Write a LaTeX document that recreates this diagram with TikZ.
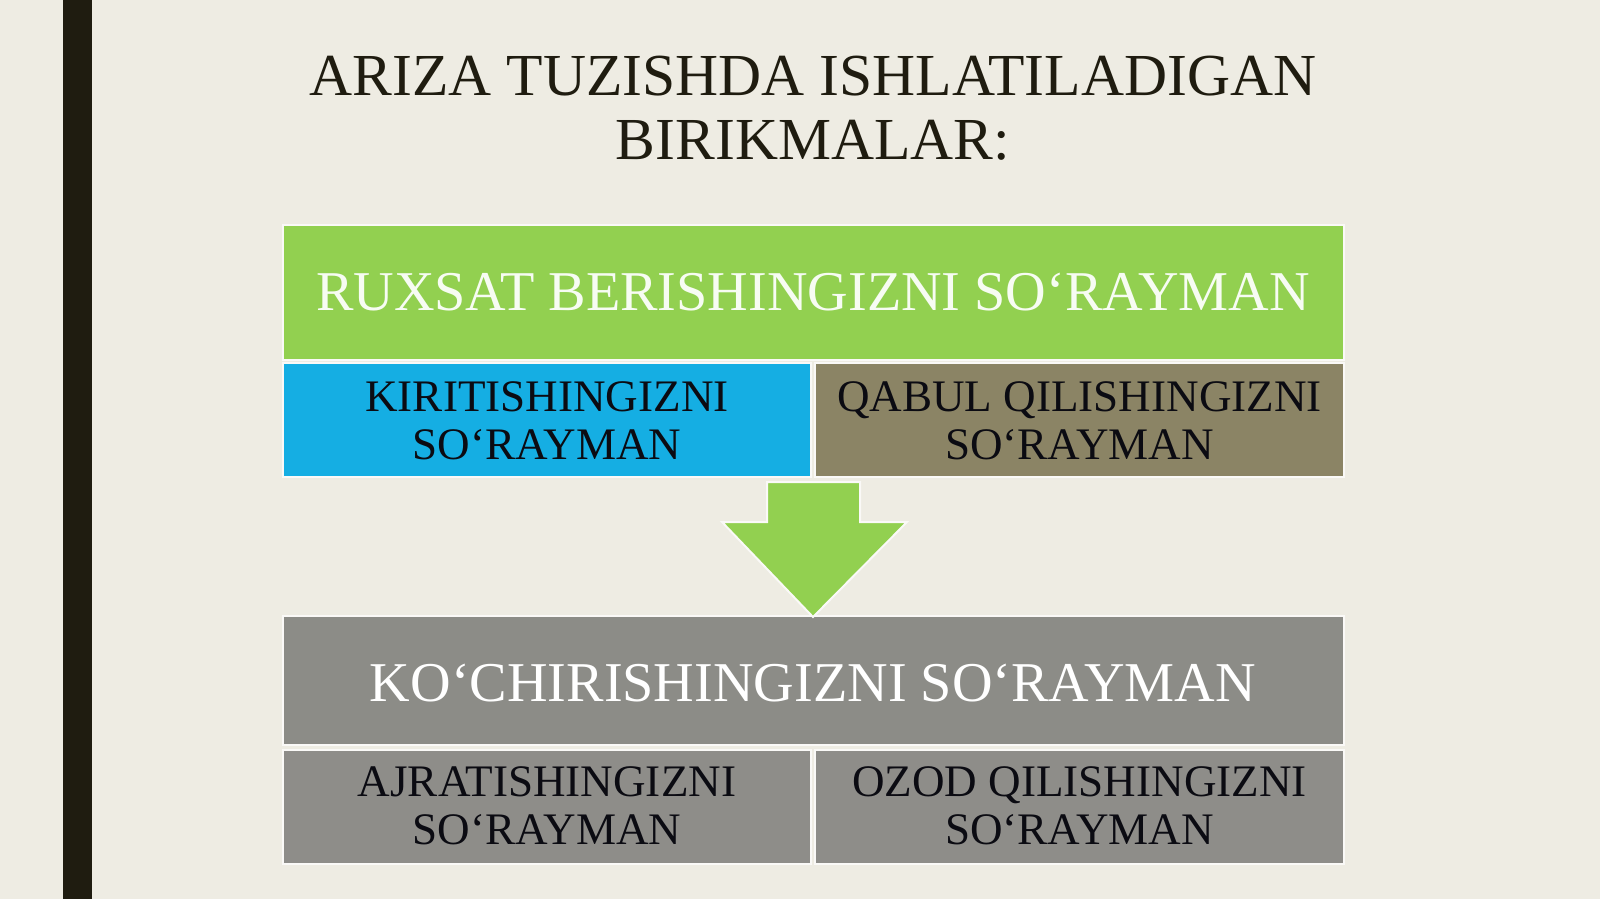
\documentclass[tikz,border=0pt]{standalone}
\usepackage{fontspec}
\setmainfont{Liberation Serif}
\definecolor{bgc}{HTML}{EEECE3}
\definecolor{barc}{HTML}{1F1C10}
\definecolor{greenc}{HTML}{92D050}
\definecolor{bluec}{HTML}{15AEE3}
\definecolor{olivec}{HTML}{8B8465}
\definecolor{greybig}{HTML}{8C8C87}
\definecolor{greysm}{HTML}{8E8D89}
\definecolor{inkc}{HTML}{0B0B12}
\tikzset{
  px/.style={x=0.5pt,y=-0.5pt},
  boxshape/.style={draw=white!70!bgc, line width=1.2pt, inner sep=0pt, outer sep=0pt, rectangle},
  titletxt/.style={anchor=base, inner sep=0pt, text=barc, font=\fontsize{29.8}{36}\selectfont},
  bigtxt/.style={anchor=base, inner sep=0pt, text=white, font=\fontsize{28.1}{34}\selectfont},
  smalltxt/.style={anchor=base, inner sep=0pt, text=inkc, font=\fontsize{22.55}{27}\selectfont},
}
\begin{document}
\begin{tikzpicture}[px]
\useasboundingbox (0,0) rectangle (1600,899);
\fill[bgc] (0,0) rectangle (1600,899);
\fill[barc] (63,0) rectangle (92,899);
% title
\node[titletxt] (t1) at (813,96) {ARIZA TUZISHDA ISHLATILADIGAN};
\node[titletxt] (t2) at (813,160) {BIRIKMALAR:};
% boxes
\node[boxshape, fill=greenc, minimum width=530.5pt, minimum height=67.5pt] (gr) at (813.5,292.5) {};
\node[boxshape, fill=bluec, minimum width=264pt, minimum height=57pt] (bl) at (547,420) {};
\node[boxshape, fill=olivec, minimum width=264.5pt, minimum height=57pt] (ol) at (1079.5,420) {};
\node[boxshape, fill=greybig, minimum width=530.5pt, minimum height=64.5pt] (gb) at (813.5,680.5) {};
\node[boxshape, fill=greysm, minimum width=264pt, minimum height=57pt] (gl) at (547,807) {};
\node[boxshape, fill=greysm, minimum width=264.5pt, minimum height=57pt] (gr2) at (1079.5,807) {};
% arrow
\draw[fill=greenc, draw=white!70!bgc, line width=1pt, line join=miter]
  (767,482) -- (860,482) -- (860,522) -- (907,522) -- (813,617) -- (722,522) -- (767,522) -- cycle;
% texts
\node[bigtxt, text=white!93!greenc] (grt) at (813,310) {RUXSAT BERISHINGIZNI SO‘RAYMAN};
\node[smalltxt] (blt1) at (547,411) {KIRITISHINGIZNI};
\node[smalltxt] (blt2) at (547,459) {SO‘RAYMAN};
\node[smalltxt] (olt1) at (1079.5,411) {QABUL QILISHINGIZNI};
\node[smalltxt] (olt2) at (1079.5,459) {SO‘RAYMAN};
\node[bigtxt] (gbt) at (813,701) {KO‘CHIRISHINGIZNI SO‘RAYMAN};
\node[smalltxt] (glt1) at (547,796) {AJRATISHINGIZNI};
\node[smalltxt] (glt2) at (547,844) {SO‘RAYMAN};
\node[smalltxt] (grt1) at (1079.5,796) {OZOD QILISHINGIZNI};
\node[smalltxt] (grt2) at (1079.5,844) {SO‘RAYMAN};
\end{tikzpicture}
\end{document}
